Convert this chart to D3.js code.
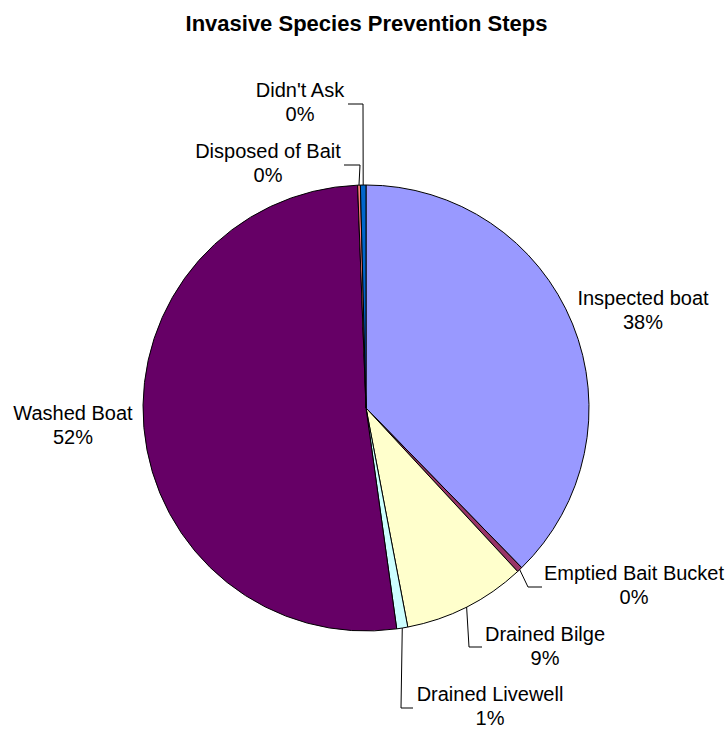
<!DOCTYPE html>
<html>
<head>
<meta charset="utf-8">
<script src="https://cdn.jsdelivr.net/npm/d3@7"></script>
<style>
  html, body { margin: 0; padding: 0; background: #ffffff; }
  svg { display: block; }
  text { font-family: "Liberation Sans", Arial, sans-serif; fill: #000; }
</style>
</head>
<body>
<svg id="chart" width="727" height="730"></svg>
<script>
// Survey responses: which prevention steps boaters took (share of responses, %)
const categories = [
  "Inspected boat",
  "Emptied Bait Bucket",
  "Drained Bilge",
  "Drained Livewell",
  "Washed Boat",
  "Disposed of Bait",
  "Didn't Ask"
];
const values = [37.7, 0.4, 8.9, 0.8, 51.6, 0.2, 0.4];
const colors = ["#9999FF", "#993366", "#FFFFCC", "#CCFFFF", "#660066", "#FF8080", "#0066CC"];
const title = "Invasive Species Prevention Steps";

// Label placement: text centre x, first baseline y, and leader path (elbow, end) if any
const labelLayout = {
  "Inspected boat":      { x: 643, y: 305, leader: null },
  "Emptied Bait Bucket": { x: 634, y: 580, leader: [[528, 587], [542, 587]] },
  "Drained Bilge":       { x: 545, y: 641, leader: [[469, 647], [482, 647]] },
  "Drained Livewell":    { x: 490, y: 701, leader: [[401, 708], [413, 708]] },
  "Washed Boat":         { x: 73,  y: 420, leader: null },
  "Disposed of Bait":    { x: 268, y: 158, leader: [[360, 165], [344, 165]] },
  "Didn't Ask":          { x: 300, y: 97,  leader: [[363, 104], [348, 104]] }
};

const svg = d3.select("#chart");
const cx = 366, cy = 408, radius = 223;

svg.append("text")
  .attr("x", 366.5)
  .attr("y", 31)
  .attr("text-anchor", "middle")
  .style("font-weight", "bold")
  .style("font-size", "22px")
  .text(title);

const data = categories.map((c, i) => ({ name: c, value: values[i], color: colors[i] }));
const total = d3.sum(values);
const pct = d3.format(".0%");

const pie = d3.pie().sort(null).value(d => d.value);
const arcs = pie(data);
const arc = d3.arc().innerRadius(0).outerRadius(radius);

const g = svg.append("g").attr("transform", `translate(${cx},${cy})`);

g.selectAll("path.slice")
  .data(arcs)
  .join("path")
  .attr("class", "slice")
  .attr("d", arc)
  .attr("fill", d => d.data.color)
  .attr("stroke", "#000")
  .attr("stroke-width", 1)
  .attr("stroke-linejoin", "round");

// Leader lines from the rim at each slice's mid angle
arcs.forEach(d => {
  const lay = labelLayout[d.data.name];
  if (!lay.leader) return;
  const mid = (d.startAngle + d.endAngle) / 2;
  const start = [cx + radius * Math.sin(mid), cy - radius * Math.cos(mid)];
  const pts = [start].concat(lay.leader);
  svg.append("path")
    .attr("d", d3.line()(pts))
    .attr("fill", "none")
    .attr("stroke", "#000")
    .attr("stroke-width", 1);
});

// Category name and percentage labels
arcs.forEach(d => {
  const lay = labelLayout[d.data.name];
  const t = svg.append("text")
    .attr("text-anchor", "middle")
    .style("font-size", "20px");
  t.append("tspan").attr("x", lay.x).attr("y", lay.y).text(d.data.name);
  t.append("tspan").attr("x", lay.x).attr("dy", 24).text(pct(d.data.value / total));
});
</script>
</body>
</html>
